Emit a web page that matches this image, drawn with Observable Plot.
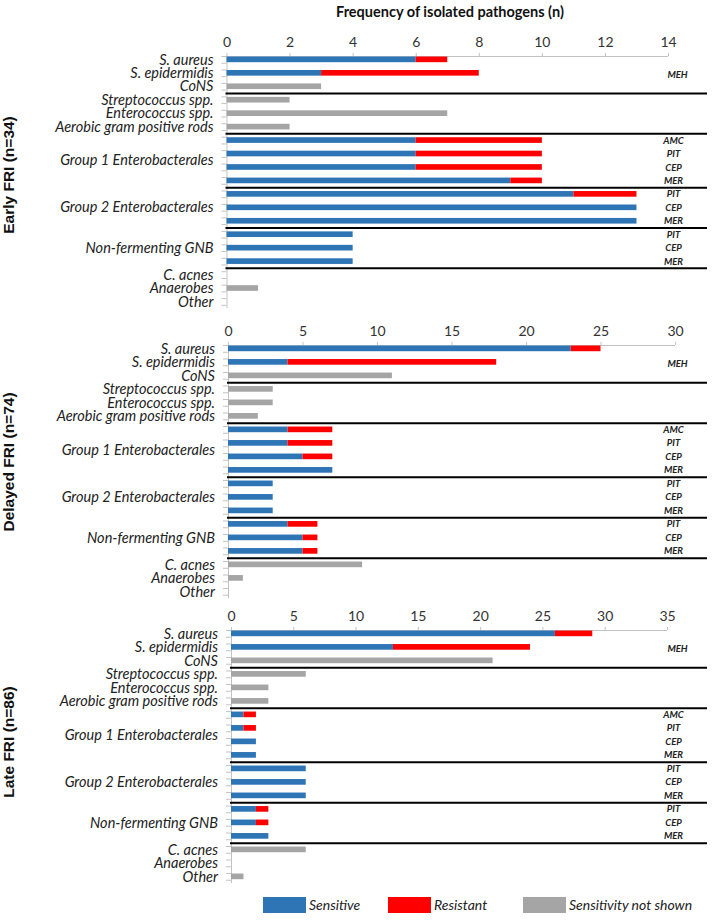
<!DOCTYPE html>
<html><head><meta charset="utf-8">
<script src="https://cdn.jsdelivr.net/npm/d3@7"></script>
<script src="https://cdn.jsdelivr.net/npm/@observablehq/plot@0.6"></script>
<style>
body{margin:0;background:#fff;}
#chart{position:relative;width:716px;height:921px;font-family:Lato,sans-serif;overflow:hidden;background:#fff}
.abs{position:absolute}
.side{position:absolute;width:220px;height:20px;line-height:20px;text-align:center;transform:rotate(-90deg);font-family:"Liberation Sans",Arial,sans-serif;font-weight:bold;font-size:15.5px;color:#111;white-space:nowrap}
.sw{position:absolute;width:43px;height:16px}
.lt{position:absolute;height:16px;line-height:16px;font-style:italic;font-size:14px;color:#222;white-space:nowrap}
</style></head><body><div id="chart"></div>
<script>
// ---- data ----
const rowPathogen = ["S. aureus","S. epidermidis","CoNS","Streptococcus spp.","Enterococcus spp.","Aerobic gram positive rods",
  "Group 1 Enterobacterales","Group 1 Enterobacterales","Group 1 Enterobacterales","Group 1 Enterobacterales",
  "Group 2 Enterobacterales","Group 2 Enterobacterales","Group 2 Enterobacterales",
  "Non-fermenting GNB","Non-fermenting GNB","Non-fermenting GNB",
  "C. acnes","Anaerobes","Other"];
const rowGroup = ["staph","staph","staph","gp","gp","gp","g1","g1","g1","g1","g2","g2","g2","nf","nf","nf","other","other","other"];
const rowDrug = ["","MEH","","","","","AMC","PIT","CEP","MER","PIT","CEP","MER","PIT","CEP","MER","","",""];

const panelNames = ["Early FRI (n=34)","Delayed FRI (n=74)","Late FRI (n=86)"];
const ticksEarly = [0,2,4,6,8,10,12,14];
const ticksDelayed = [0,5,10,15,20,25,30];
const ticksLate = [0,5,10,15,20,25,30,35];

const earlySensitive = [6,3,0,0,0,0,6,6,6,9,11,13,13,4,4,4,0,0,0];
const earlyResistant = [1,5,0,0,0,0,4,4,4,1,2,0,0,0,0,0,0,0,0];
const earlyNotShown  = [0,0,3,2,7,2,0,0,0,0,0,0,0,0,0,0,0,1,0];

const delayedSensitive = [23,4,0,0,0,0,4,4,5,7,3,3,3,4,5,5,0,0,0];
const delayedResistant = [2,14,0,0,0,0,3,3,2,0,0,0,0,2,1,1,0,0,0];
const delayedNotShown  = [0,0,11,3,3,2,0,0,0,0,0,0,0,0,0,0,9,1,0];

const lateSensitive = [26,13,0,0,0,0,1,1,2,2,6,6,6,2,2,3,0,0,0];
const lateResistant = [3,11,0,0,0,0,1,1,0,0,0,0,0,1,1,0,0,0,0];
const lateNotShown  = [0,0,21,6,3,3,0,0,0,0,0,0,0,0,0,0,6,0,1];

const types = ["Sensitive","Resistant","Sensitivity not shown"];
const typeColors = ["#2E75B6","#FF0000","#A5A5A5"];
const title = "Frequency of isolated pathogens (n)";

// ---- layout (pixels) ----
const layouts = [
  {ticks: ticksEarly, max: 14, x0: 226.5, x1: 668, c0: 59.8, step: 13.45, side: 175},
  {ticks: ticksDelayed, max: 30, x0: 228, x1: 675, c0: 348, step: 13.5, side: 462},
  {ticks: ticksLate, max: 35, x0: 231, x1: 667, c0: 633, step: 13.5, side: 742}
];
const series = [
  [earlySensitive, earlyResistant, earlyNotShown],
  [delayedSensitive, delayedResistant, delayedNotShown],
  [lateSensitive, lateResistant, lateNotShown]
];

const chart = document.getElementById("chart");
const W = 716, MT = 35, MB = 3, SEP_END = 707, SUB_X = 673, AX = "#c3c3c3";

function panel(cfg, [sens, res, ns]) {
  const n = rowPathogen.length;
  const rows = rowPathogen.map((p, i) => ({i, p, drug: rowDrug[i], group: rowGroup[i]}));
  const segs = [];
  rows.forEach((r, i) => {
    if (sens[i]) segs.push({i, x1: 0, x2: sens[i], type: types[0]});
    if (res[i]) segs.push({i, x1: sens[i], x2: sens[i] + res[i], type: types[1]});
    if (ns[i]) segs.push({i, x1: 0, x2: ns[i], type: types[2]});
  });
  const labels = d3.groups(rows, r => r.p).map(([p, rs]) => ({p, y: d3.mean(rs, r => r.i)}));
  const seps = rows.filter((r, i) => i > 0 && rowGroup[i] !== rowGroup[i - 1]).map(r => r.i - 0.5);
  const tickYs = rows.flatMap(r => [r.i - 0.25, r.i + 0.25]);
  const yTop = -0.25, yBot = n - 0.5;
  const innerH = (yBot - yTop) * cfg.step;
  const height = MT + innerH + MB;
  const svg = Plot.plot({
    width: W, height,
    marginLeft: cfg.x0, marginRight: W - cfg.x1, marginTop: MT, marginBottom: MB,
    style: {fontFamily: "Lato, sans-serif", background: "transparent", overflow: "visible"},
    x: {domain: [0, cfg.max], axis: null},
    y: {domain: [yTop, yBot], reverse: true, axis: null},
    color: {domain: types, range: typeColors},
    marks: [
      Plot.ruleY([yTop], {x1: 0, x2: cfg.max, stroke: AX, strokeWidth: 1}),
      Plot.ruleX(cfg.ticks, {x: d => d, y1: yTop, y2: yTop, insetTop: -3, stroke: AX}),
      Plot.text(cfg.ticks, {x: d => d, frameAnchor: "top", dy: -19, text: d => String(d), fontSize: 14, fill: "#333"}),
      Plot.ruleX([0], {y1: yTop, y2: yBot, stroke: AX}),
      Plot.ruleY(tickYs, {y: d => d, x1: 0, x2: 0, insetLeft: -5, stroke: AX}),
      Plot.rectX(segs, {x1: "x1", x2: "x2", y1: d => d.i - 0.21, y2: d => d.i + 0.21, fill: "type"}),
      Plot.ruleY(seps, {y: d => d, x1: 0, x2: cfg.max, insetLeft: -1, insetRight: -(SEP_END - cfg.x1), stroke: "#000", strokeWidth: 2}),
      Plot.text(labels, {y: "y", text: "p", frameAnchor: "left", textAnchor: "end", dx: -13.5, fontStyle: "italic", fontSize: 14.5, fill: "#222"}),
      Plot.text(rows.filter(r => r.drug && r.drug !== "MEH"), {y: "i", text: "drug", frameAnchor: "right", textAnchor: "middle", dx: SUB_X - cfg.x1, fontStyle: "italic", fontWeight: "bold", fontSize: 9.5, fill: "#222"}),
      Plot.text(rows.filter(r => r.drug === "MEH"), {y: "i", text: "drug", frameAnchor: "right", textAnchor: "middle", dx: SUB_X + 4 - cfg.x1, dy: 2, fontStyle: "italic", fontWeight: "bold", fontSize: 9.5, fill: "#222"})
    ]
  });
  const wrap = document.createElement("div");
  wrap.className = "abs";
  wrap.style.left = "0px";
  wrap.style.top = (cfg.c0 - 0.25 * cfg.step - MT) + "px";
  wrap.appendChild(svg);
  chart.appendChild(wrap);
}

layouts.forEach((cfg, k) => panel(cfg, series[k]));

// title
const t = document.createElement("div");
t.className = "abs";
t.style.cssText = "left:250px;top:3px;width:400px;text-align:center;font-weight:bold;font-size:14.5px;line-height:18px;color:#111";
t.textContent = title;
chart.appendChild(t);

// side labels
layouts.forEach((cfg, k) => {
  const s = document.createElement("div");
  s.className = "side";
  s.style.left = (9 - 110) + "px";
  s.style.top = (cfg.side - 10) + "px";
  s.textContent = panelNames[k];
  chart.appendChild(s);
});

// legend
const legendPos = [[263, 309], [388, 434], [523, 569]];
types.forEach((ty, k) => {
  const sw = document.createElement("div");
  sw.className = "sw";
  sw.style.left = legendPos[k][0] + "px";
  sw.style.top = "897px";
  sw.style.background = typeColors[k];
  chart.appendChild(sw);
  const lt = document.createElement("div");
  lt.className = "lt";
  lt.style.left = legendPos[k][1] + "px";
  lt.style.top = "897px";
  lt.textContent = ty;
  chart.appendChild(lt);
});
</script></body></html>
